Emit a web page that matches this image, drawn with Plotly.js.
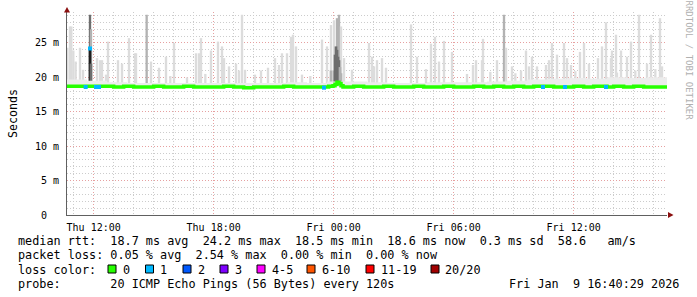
<!DOCTYPE html>
<html>
<head>
<meta charset="utf-8">
<script src="https://cdn.plot.ly/plotly-3.0.1.min.js"></script>
<style>html,body{margin:0;padding:0;background:#fff;}#chart{width:697px;height:297px;}</style>
</head>
<body>
<div id="chart"></div>
<script>
// ---------------- DATA ----------------
// Median RTT (ms) with number of lost pings (out of 20) per sample
const medianTimes = ['Thu 10:40','Thu 11:10','Thu 11:36','Thu 11:45','Thu 11:49','Thu 11:53','Thu 12:07','Thu 12:16','Thu 12:30','Thu 13:00','Thu 13:30','Thu 14:00','Thu 14:30','Thu 15:00','Thu 15:30','Thu 16:00','Thu 16:30','Thu 17:00','Thu 17:30','Thu 18:00','Thu 18:30','Thu 19:00','Thu 19:30','Thu 20:00','Thu 20:30','Thu 21:00','Thu 21:30','Thu 22:00','Thu 22:30','Thu 23:00','Thu 23:31','Thu 23:45','Thu 23:58','Fri 00:04','Fri 00:10','Fri 00:16','Fri 00:22','Fri 00:28','Fri 01:00','Fri 01:30','Fri 02:00','Fri 02:30','Fri 03:00','Fri 03:30','Fri 04:00','Fri 04:30','Fri 05:00','Fri 05:30','Fri 06:00','Fri 06:30','Fri 07:00','Fri 07:30','Fri 08:00','Fri 08:30','Fri 09:00','Fri 09:30','Fri 10:00','Fri 10:28','Fri 10:30','Fri 11:00','Fri 11:34','Fri 11:40','Fri 12:00','Fri 12:30','Fri 13:00','Fri 13:37','Fri 13:40','Fri 14:00','Fri 14:30','Fri 15:00','Fri 15:30','Fri 16:00','Fri 16:30','Fri 16:40'];
const medianRtt = [18.7,18.7,18.6,18.7,24.2,18.7,18.6,18.6,18.7,18.6,18.7,18.6,18.6,18.7,18.6,18.6,18.7,18.6,18.6,18.6,18.7,18.6,18.5,18.6,18.6,18.6,18.7,18.6,18.6,18.6,18.5,18.7,18.8,19.0,19.3,19.1,18.8,18.6,18.7,18.6,18.6,18.7,18.6,18.6,18.7,18.6,18.6,18.7,18.6,18.6,18.7,18.6,18.7,18.6,18.7,18.6,18.7,18.6,18.7,18.6,18.6,18.6,18.7,18.6,18.7,18.6,18.6,18.7,18.6,18.7,18.6,18.6,18.6,18.6];
const medianLoss = [0,0,1,0,1,0,1,1,0,0,0,0,0,0,0,0,0,0,0,0,0,0,0,0,0,0,0,0,0,0,1,0,0,0,0,0,0,0,0,0,0,0,0,0,0,0,0,0,0,0,0,0,0,0,0,0,0,1,0,0,1,0,0,0,0,1,0,0,0,0,0,0,0,0];

// Low dense smoke band (hourly min / max of the pings, ms)
const bandTimes = ['Thu 10:40','Thu 11:40','Thu 12:40','Thu 13:40','Thu 14:40','Thu 15:40','Thu 16:40','Thu 17:40','Thu 18:40','Thu 19:40','Thu 20:40','Thu 21:40','Thu 22:40','Thu 23:40','Fri 00:40','Fri 01:40','Fri 02:40','Fri 03:40','Fri 04:40','Fri 05:40','Fri 06:40','Fri 07:40','Fri 08:40','Fri 09:40','Fri 10:40','Fri 11:40','Fri 12:40','Fri 13:40','Fri 14:40','Fri 15:40','Fri 16:40'];
const bandMin = [18.6,18.6,18.6,18.6,18.6,18.6,18.6,18.6,18.6,18.6,18.6,18.6,18.6,18.6,18.6,18.6,18.6,18.6,18.6,18.6,18.6,18.6,18.6,18.6,18.6,18.6,18.6,18.6,18.6,18.6,18.6];
const bandMax = [19.7,19.5,19.3,19.2,19.2,19.2,19.2,19.2,19.2,19.2,19.2,19.3,19.2,19.4,19.4,19.3,19.2,19.2,19.3,19.3,19.3,19.4,19.5,19.7,19.8,19.9,19.8,20.0,19.9,20.0,19.9];

// Smoke spikes: slowest ping of the sample (ms) and ping density level (1 sparse .. 4 dense)
const spikeFloor = 18.6;
const spikeTimes = ['Thu 10:41','Thu 10:49','Thu 10:53','Thu 10:59','Thu 11:06','Thu 11:19','Thu 11:28','Thu 11:49','Thu 11:52','Thu 12:10','Thu 12:19','Thu 12:25','Thu 12:37','Thu 12:43','Thu 13:13','Thu 13:25','Thu 13:46','Thu 14:04','Thu 14:07','Thu 14:39','Thu 14:52','Thu 15:16','Thu 15:37','Thu 15:50','Thu 16:01','Thu 16:40','Thu 17:07','Thu 17:16','Thu 17:22','Thu 17:35','Thu 17:52','Thu 18:13','Thu 18:25','Thu 18:31','Thu 18:46','Thu 19:07','Thu 19:16','Thu 19:25','Thu 19:34','Thu 20:04','Thu 20:22','Thu 20:43','Thu 21:04','Thu 21:16','Thu 21:25','Thu 21:40','Thu 21:52','Thu 21:58','Thu 22:07','Thu 22:25','Thu 22:50','Thu 23:25','Thu 23:40','Thu 23:52','Fri 00:01','Fri 00:10','Fri 00:16','Fri 00:22','Fri 00:31','Fri 00:55','Fri 01:46','Fri 01:55','Fri 02:01','Fri 02:10','Fri 02:25','Fri 02:37','Fri 03:52','Fri 04:10','Fri 04:37','Fri 04:52','Fri 05:04','Fri 05:16','Fri 05:31','Fri 05:55','Fri 06:40','Fri 06:58','Fri 07:07','Fri 07:25','Fri 07:28','Fri 07:50','Fri 08:10','Fri 08:31','Fri 08:37','Fri 08:55','Fri 09:05','Fri 09:22','Fri 09:37','Fri 09:46','Fri 09:55','Fri 10:10','Fri 10:37','Fri 10:46','Fri 10:55','Fri 11:10','Fri 11:31','Fri 11:40','Fri 11:52','Fri 12:05','Fri 12:19','Fri 12:31','Fri 12:46','Fri 13:13','Fri 13:25','Fri 13:37','Fri 13:52','Fri 13:55','Fri 14:07','Fri 14:10','Fri 14:22','Fri 14:40','Fri 14:52','Fri 15:05','Fri 15:16','Fri 15:40','Fri 15:52','Fri 16:05','Fri 16:19','Fri 16:25'];
const spikeTops = [24.3,27.4,27.4,23.9,22.3,24.3,21.1,29.1,27.0,22.8,22.5,22.5,20.4,25.2,22.5,22.0,25.7,23.5,23.5,29.1,22.3,21.4,23.0,20.2,25.0,20.0,23.5,23.5,25.7,20.5,23.9,25.2,24.5,22.8,21.6,22.0,21.0,29.1,21.1,20.4,21.0,21.4,22.8,21.8,23.5,23.5,25.9,26.2,24.5,20.4,20.2,25.5,24.5,27.6,28.3,28.6,29.1,27.4,22.8,21.1,25.0,23.0,21.6,22.5,22.8,21.4,27.7,23.0,21.2,24.9,25.9,22.3,25.3,23.7,20.5,21.8,22.5,22.5,25.6,20.8,22.5,29.1,24.3,21.6,20.6,21.0,23.9,21.6,23.0,21.6,21.8,22.5,25.0,23.3,25.0,22.8,21.8,20.9,23.7,25.0,22.0,22.8,24.5,28.0,22.8,23.9,26.2,20.7,23.9,23.0,25.2,21.0,29.1,22.0,26.2,21.2,28.6,21.6];
const spikeDensity = [1,1,1,1,1,1,1,3,2,1,1,1,1,1,1,1,1,1,1,2,1,1,1,1,1,1,1,1,1,1,1,1,1,1,1,1,1,1,1,1,1,1,1,1,1,1,1,1,1,1,1,1,1,1,1,2,2,1,1,1,1,1,1,1,1,1,1,1,1,1,1,1,1,1,1,1,1,1,1,1,1,2,1,1,1,1,1,1,1,1,1,1,1,1,1,1,1,1,1,1,1,1,1,1,1,1,1,1,1,1,1,1,1,1,1,1,1,1];

// Dense core of the smoke (most of the 20 pings), ms
const coreTimes = ['Thu 11:49','Thu 11:52','Thu 23:52','Fri 00:01','Fri 00:04','Fri 00:07','Fri 00:10','Fri 00:13','Fri 00:16','Fri 00:19','Fri 00:22'];
const coreTops = [24.2,22.0,21.0,21.0,23.3,24.5,24.0,23.0,22.5,21.5,20.6];
const coreDensity = [4,3,2,2,3,3,3,3,3,2,2];

// Axis ticks and legend texts
const yTickVals = [0,5,10,15,20,25];
const yTickText = ['0\u00a0\u00a0','5 m','10 m','15 m','20 m','25 m'];
const lossLabels = ['0','1','2','3','4-5','6-10','11-19','20/20'];
const lossColors = ['#26ff00','#00b8ff','#0059ff','#7e00ff','#ff00ff','#ff5500','#ff0000','#a10000'];
const statLines = [
  'median rtt:  18.7 ms avg  24.2 ms max  18.5 ms min  18.6 ms now  0.3 ms sd  58.6   am/s',
  'packet loss: 0.05 % avg  2.54 % max  0.00 % min  0.00 % now',
  'loss color:',
  'probe:       20 ICMP Echo Pings (56 Bytes) every 120s'
];
const stampText = 'Fri Jan  9 16:40:29 2026';
const watermark = 'RRDTOOL / TOBI OETIKER';

// ---------------- BUILD ----------------
const toDate = s => (s.startsWith('Thu') ? '2026-01-08 ' : '2026-01-09 ') + s.slice(4);
const nb = s => s.replace(/ /g, '\u00a0');
const MONO = 'DejaVu Sans Mono';

// layout geometry (pixels)
const L = 67, R = 667, T = 12, B = 215;
const px = x => (x - L) / (R - L);
const py = y => (B - y) / (B - T);

const greyScale = [[0,'#dcdcdc'],[0.333,'#b2b2b2'],[0.667,'#6e6e6e'],[1,'#1e1e1e']];

const traces = [];
// low smoke band
traces.push({x: bandTimes.map(toDate), y: bandMin, type:'scatter', mode:'lines', line:{width:0, shape:'hv'}, hoverinfo:'skip', showlegend:false});
traces.push({x: bandTimes.map(toDate), y: bandMax, type:'scatter', mode:'lines', fill:'tonexty', fillcolor:'#ececec', line:{width:0, shape:'hv'}, hoverinfo:'skip', showlegend:false});
// spikes
traces.push({x: spikeTimes.map(toDate), y: spikeTops.map(v => v - spikeFloor), base: spikeFloor, type:'bar', width: 420000,
  marker:{color: spikeDensity, colorscale: greyScale, cmin:1, cmax:4, line:{width:0}}, hoverinfo:'skip', showlegend:false});
traces.push({x: coreTimes.map(toDate), y: coreTops.map(v => v - spikeFloor), base: spikeFloor, type:'bar', width: 480000,
  marker:{color: coreDensity, colorscale: greyScale, cmin:1, cmax:4, line:{width:0}}, hoverinfo:'skip', showlegend:false});
// median line, by loss category
const idx0 = medianLoss.map((l,i)=>i).filter(i => medianLoss[i] === 0);
traces.push({x: idx0.map(i => toDate(medianTimes[i])), y: idx0.map(i => medianRtt[i]), type:'scatter', mode:'lines',
  line:{color: lossColors[0], width:3.5, shape:'hv'}, hoverinfo:'skip', showlegend:false});
const idx1 = medianLoss.map((l,i)=>i).filter(i => medianLoss[i] === 1);
traces.push({x: idx1.map(i => toDate(medianTimes[i])), y: idx1.map(i => medianRtt[i]), type:'scatter', mode:'markers',
  marker:{color: lossColors[1], size:4, symbol:'square', line:{width:0}}, hoverinfo:'skip', showlegend:false});

const annotations = [];
statLines.forEach((s, i) => {
  annotations.push({text: nb(s), xref:'paper', yref:'paper', x: px(16), y: py(241 + i*14.3), xanchor:'left', yanchor:'middle',
    showarrow:false, font:{family: MONO, size: 11.8, color:'#000'}});
});
annotations.push({text: nb(stampText), xref:'paper', yref:'paper', x: px(681), y: py(284), xanchor:'right', yanchor:'middle',
  showarrow:false, font:{family: MONO, size: 11.8, color:'#000'}});
annotations.push({text: watermark, xref:'paper', yref:'paper', x: px(688.5), y: py(60), xanchor:'center', yanchor:'middle',
  textangle: 90, showarrow:false, font:{family: MONO, size: 9, color:'#b0b0b0'}});

const squareLeft = [108, 145.5, 183, 220, 257, 307, 366, 431];
const shapes = [];
lossLabels.forEach((lab, i) => {
  const x0 = squareLeft[i];
  shapes.push({type:'rect', xref:'paper', yref:'paper', x0: px(x0), x1: px(x0+8), y0: py(273), y1: py(265),
    fillcolor: lossColors[i], line:{color:'#000', width:1}});
  annotations.push({text: nb(lab), xref:'paper', yref:'paper', x: px(x0 + 12.5), y: py(269.6), xanchor:'left', yanchor:'middle',
    showarrow:false, font:{family: MONO, size: 11.8, color:'#000'}});
});
// axis arrows
const tri = pts => 'M ' + pts.map(p => px(p[0]) + ',' + py(p[1])).join(' L ') + ' Z';
shapes.push({type:'path', xref:'paper', yref:'paper', path: tri([[64,12.5],[70,12.5],[67,7]]), fillcolor:'#8b1010', line:{width:0}});
shapes.push({type:'path', xref:'paper', yref:'paper', path: tri([[668,212],[668,218],[673.5,215]]), fillcolor:'#8b1010', line:{width:0}});

const layout = {
  width: 697, height: 297,
  margin: {l: L, r: 697 - R, t: T, b: 297 - B, pad: 0},
  paper_bgcolor:'#ffffff', plot_bgcolor:'#ffffff',
  showlegend:false, barmode:'overlay',
  font:{family: MONO, size:10, color:'#000'},
  xaxis: {
    type:'date', range:['2026-01-08 10:40','2026-01-09 16:40'],
    tick0:'2026-01-08 12:00', dtick: 6*3600000, tickformat:'%a %H:%M',
    showgrid:true, gridcolor:'#e6a0a0', griddash:'1px,2px', gridwidth:1,
    minor:{dtick:3600000, showgrid:true, gridcolor:'#cccccc', griddash:'1px,2px', gridwidth:1, ticks:''},
    showline:true, linecolor:'#606060', linewidth:1, zeroline:false,
    ticks:'outside', ticklen:3, tickcolor:'rgba(0,0,0,0)',
    tickfont:{family: MONO, size:10, color:'#000'}, fixedrange:true
  },
  yaxis: {
    range:[0, 29.5], tickmode:'array', tickvals: yTickVals, ticktext: yTickText,
    showgrid:true, gridcolor:'#e6a0a0', griddash:'1px,2px', gridwidth:1,
    minor:{tickmode:'linear', tick0:0, dtick:1, showgrid:true, gridcolor:'#cccccc', griddash:'1px,2px', gridwidth:1, ticks:''},
    showline:true, linecolor:'#606060', linewidth:1, zeroline:false,
    ticks:'outside', ticklen:5, tickcolor:'rgba(0,0,0,0)',
    tickfont:{family: MONO, size:10, color:'#000'},
    title:{text:'Seconds', font:{family: MONO, size:11.6, color:'#000'}, standoff:14},
    automargin:false, fixedrange:true
  },
  annotations, shapes
};

Plotly.newPlot('chart', traces, layout, {staticPlot:true, displayModeBar:false});
</script>
</body>
</html>
